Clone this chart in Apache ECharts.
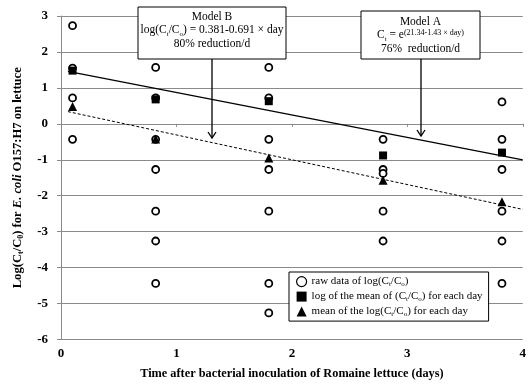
<!DOCTYPE html>
<html>
<head>
<meta charset="utf-8">
<script src="https://cdn.jsdelivr.net/npm/echarts@6/dist/echarts.min.js"></script>
<style>
  html, body { margin: 0; padding: 0; background: #fff; }
  #chart { width: 529px; height: 386px; }
</style>
</head>
<body>
<div id="chart"></div>
<script>
// Sampling days after inoculation
const days = [0.1, 0.82, 1.8, 2.79, 3.82];

// Raw log(Ct/Co) observations, one list per sampling day
const rawByDay = [
  [2.73, 1.55, 0.72, -0.43],
  [1.57, 0.72, -0.43, -1.27, -2.43, -3.26, -4.44],
  [1.57, 0.72, -0.43, -1.27, -2.43, -4.44, -5.26],
  [-0.43, -1.27, -1.38, -2.43, -3.26],
  [0.61, -0.43, -1.27, -2.43, -3.26, -4.44]
];

// log of the mean of (Ct/Co) for each day
const logOfMean = [1.48, 0.68, 0.63, -0.88, -0.80];

// mean of the log(Ct/Co) for each day
const meanOfLog = [0.48, -0.42, -0.95, -1.57, -2.17];

// Fitted model lines, start and end points [day, log(Ct/Co)]
const modelALine = [[0.06, 1.46], [4.0, -1.0]];
const modelBLine = [[0.06, 0.34], [4.0, -2.38]];

// Axis tick ranges
const xTicks = { min: 0, max: 4, step: 1 };
const yTicks = { min: -6, max: 3, step: 1 };

const serif = '"Liberation Serif", "Times New Roman", serif';
const gridGray = '#8a8a8a';

const rawPoints = [];
rawByDay.forEach((vals, i) => vals.forEach(v => rawPoints.push([days[i], v])));

const chart = echarts.init(document.getElementById('chart'), null, { renderer: 'canvas' });

const subRich = {
  n: { fontFamily: serif, fontSize: 11, color: '#000' },
  s: { fontFamily: serif, fontSize: 7, color: '#000', verticalAlign: 'bottom', padding: [0, 0, -1, 0] }
};

const legendLabels = {
  raw: '{n|raw data of log(C}{s|t}{n|/C}{s|o}{n|)}',
  logMean: '{n|log of the mean of (C}{s|t}{n|/C}{s|o}{n|) for each day}',
  meanLog: '{n|mean of the log(C}{s|t}{n|/C}{s|o}{n|) for each day}'
};

chart.setOption({
  animation: false,
  backgroundColor: '#fff',
  grid: { left: 61, right: 4, top: 16, bottom: 46.5, containLabel: false },
  xAxis: {
    type: 'value',
    min: xTicks.min, max: xTicks.max, interval: xTicks.step,
    name: 'Time after bacterial inoculation of Romaine lettuce (days)',
    nameLocation: 'middle',
    nameGap: 28,
    nameTextStyle: { fontFamily: serif, fontWeight: 'bold', fontSize: 12.3, color: '#000' },
    axisLine: { show: true, lineStyle: { color: gridGray, width: 1 } },
    axisTick: { show: true, length: 3, lineStyle: { color: gridGray } },
    axisLabel: { fontFamily: serif, fontWeight: 'bold', fontSize: 13, color: '#000', margin: 8 },
    splitLine: { show: false }
  },
  yAxis: {
    type: 'value',
    min: yTicks.min, max: yTicks.max, interval: yTicks.step,
    name: '{b|Log(C}{bs|t}{b|/C}{bs|0}{b|) for }{i|E. coli}{b| O157:H7 on lettuce}',
    nameLocation: 'middle',
    nameGap: 37,
    nameTextStyle: {
      fontFamily: serif, fontWeight: 'bold', fontSize: 12.6, color: '#000',
      rich: {
        b: { fontFamily: serif, fontWeight: 'bold', fontSize: 12.6, color: '#000' },
        bs: { fontFamily: serif, fontWeight: 'bold', fontSize: 8, color: '#000', verticalAlign: 'bottom', padding: [0, 0, -1, 0] },
        i: { fontFamily: serif, fontWeight: 'bold', fontStyle: 'italic', fontSize: 12.6, color: '#000' }
      }
    },
    axisLine: { show: true, lineStyle: { color: gridGray, width: 1 } },
    axisTick: { show: true, length: 4, lineStyle: { color: gridGray } },
    axisLabel: { fontFamily: serif, fontWeight: 'bold', fontSize: 13, color: '#000', margin: 13 },
    splitLine: { show: true, lineStyle: { color: gridGray, width: 1 } }
  },
  legend: {
    orient: 'vertical',
    left: 289, top: 272,
    width: 200,
    padding: [4, 6, 3, 7],
    itemWidth: 10, itemHeight: 10, itemGap: 3,
    backgroundColor: '#fff',
    borderColor: '#000', borderWidth: 1,
    data: [
      { name: 'raw', icon: 'circle', itemStyle: { color: '#fff', borderColor: '#000', borderWidth: 1.2 } },
      { name: 'logMean', icon: 'rect' },
      { name: 'meanLog', icon: 'triangle' }
    ],
    formatter: name => legendLabels[name],
    textStyle: { rich: subRich }
  },
  series: [
    {
      name: 'modelA', type: 'line', data: modelALine,
      symbol: 'none', silent: true,
      lineStyle: { color: '#000', width: 1.3, type: 'solid' }, z: 2
    },
    {
      name: 'modelB', type: 'line', data: modelBLine,
      symbol: 'none', silent: true,
      lineStyle: { color: '#000', width: 1, type: [3, 2] }, z: 2
    },
    {
      name: 'raw', type: 'scatter', data: rawPoints,
      symbol: 'circle', symbolSize: 7,
      itemStyle: { color: '#fff', borderColor: '#000', borderWidth: 1.8, opacity: 1 }, z: 3
    },
    {
      name: 'logMean', type: 'scatter',
      data: days.map((d, i) => [d, logOfMean[i]]),
      symbol: 'rect', symbolSize: 8,
      itemStyle: { color: '#000', opacity: 1 }, z: 4
    },
    {
      name: 'meanLog', type: 'scatter',
      data: days.map((d, i) => [d, meanOfLog[i]]),
      symbol: 'triangle', symbolSize: 9,
      itemStyle: { color: '#000', opacity: 1 }, z: 4
    }
  ],
  graphic: [
    // Model B call-out
    { type: 'line', shape: { x1: 212, y1: 59, x2: 212, y2: 138 }, style: { stroke: '#000', lineWidth: 1.3 }, z: 10 },
    { type: 'polyline', shape: { points: [[208, 132], [212, 138], [216, 132]] }, style: { stroke: '#000', lineWidth: 1.3, fill: null }, z: 10 },
    { type: 'rect', shape: { x: 138, y: 7, width: 148, height: 52 }, style: { fill: '#fff', stroke: '#000', lineWidth: 1 }, z: 10 },
    {
      type: 'text', x: 212, y: 10, z: 11,
      style: {
        text: '{n|Model B}\n{n|log(C}{s|t}{n|/C}{s|o}{n|) = 0.381-0.691 × day}\n{n|80% reduction/d}',
        align: 'center', verticalAlign: 'top', lineHeight: 13.5,
        rich: {
          n: { fontFamily: serif, fontSize: 11.5, color: '#000', lineHeight: 13.5 },
          s: { fontFamily: serif, fontSize: 7, color: '#000', verticalAlign: 'bottom', padding: [0, 0, -1, 0], lineHeight: 13.5 }
        }
      }
    },
    // Model A call-out
    { type: 'line', shape: { x1: 421, y1: 59, x2: 421, y2: 136 }, style: { stroke: '#000', lineWidth: 1.3 }, z: 10 },
    { type: 'polyline', shape: { points: [[417, 130], [421, 136], [425, 130]] }, style: { stroke: '#000', lineWidth: 1.3, fill: null }, z: 10 },
    { type: 'rect', shape: { x: 361, y: 11, width: 119, height: 48 }, style: { fill: '#fff', stroke: '#000', lineWidth: 1 }, z: 10 },
    {
      type: 'text', x: 420.5, y: 15, z: 11,
      style: {
        text: '{n|Model A}\n{n|C}{s|t}{n| = e}{p|(21.34-1.43 × day)}\n{n|76%  reduction/d}',
        align: 'center', verticalAlign: 'top', lineHeight: 13.5,
        rich: {
          n: { fontFamily: serif, fontSize: 11.5, color: '#000', lineHeight: 13.5 },
          s: { fontFamily: serif, fontSize: 7, color: '#000', verticalAlign: 'bottom', padding: [0, 0, -1, 0], lineHeight: 13.5 },
          p: { fontFamily: serif, fontSize: 8, color: '#000', verticalAlign: 'top', padding: [0, 0, 3, 0], lineHeight: 13.5 }
        }
      }
    }
  ]
});
</script>
</body>
</html>
